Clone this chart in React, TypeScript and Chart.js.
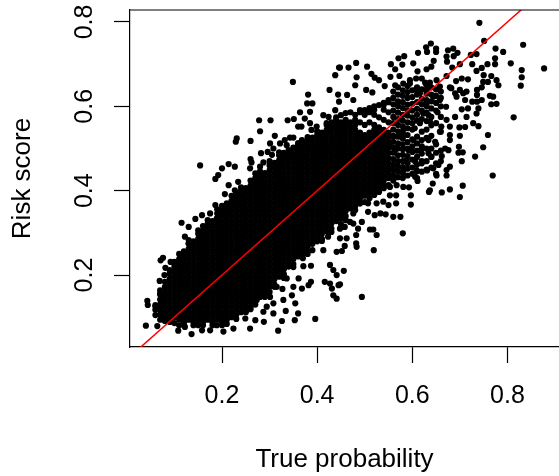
import { useEffect, useRef } from "react";
import { Chart, registerables } from "chart.js";

Chart.register(...registerables);

const FONT = "'Liberation Sans', Arial, sans-serif";
const xTicks = [0.2, 0.4, 0.6, 0.8];
const yTicks = [0.2, 0.4, 0.6, 0.8];
const refLineEnds = [0, 0.95];

const coreTrue = [60,70,80,90,100,110,120,130,140,150,160,170,180,190,200,210,220,230,240,250,260,270,280,290,300,310,320,330,340,350,360,370,380,390,400,410,420,430,440,450,460,470,480,490,500,510,520,530,540,550];
const coreRisk = [
[105,118,129],
[94,106,118,130,142,154,164],
[91,100,112,124,136,148,160,172,184],
[89,95,107,119,131,143,155,167,179,191,203,212],
[86,100,112,124,136,148,160,172,184,196,208,220,231],
[81,94,106,118,130,142,154,166,178,190,202,214,226,238,250],
[81,88,100,112,124,136,148,160,172,184,196,208,220,232,244,256],
[94,106,118,130,142,154,166,178,190,202,214,226,238,250,262,274,283],
[81,88,100,112,124,136,148,160,172,184,196,208,220,232,244,256,268,280],
[81,94,106,118,130,142,154,166,178,190,202,214,226,238,250,262,274,286,298,306],
[81,88,100,112,124,136,148,160,172,184,196,208,220,232,244,256,268,280,292,304,316],
[94,106,118,130,142,154,166,178,190,202,214,226,238,250,262,274,286,298,310,322,330],
[81,88,100,112,124,136,148,160,172,184,196,208,220,232,244,256,268,280,292,304,316,328],
[94,106,118,130,142,154,166,178,190,202,214,226,238,250,262,274,286,298,310,322,334,346,356],
[81,88,100,112,124,136,148,160,172,184,196,208,220,232,244,256,268,280,292,304,316,328,340,352,364],
[84,94,106,118,130,142,154,166,178,190,202,214,226,238,250,262,274,286,298,310,322,334,346,358,370],
[100,112,124,136,148,160,172,184,196,208,220,232,244,256,268,280,292,304,316,328,340,352,364,376,388],
[96,106,118,130,142,154,166,178,190,202,214,226,238,250,262,274,286,298,310,322,334,346,358,370,382,394],
[112,124,136,148,160,172,184,196,208,220,232,244,256,268,280,292,304,316,328,340,352,364,376,388,400,408],
[112,118,130,142,154,166,178,190,202,214,226,238,250,262,274,286,298,310,322,334,346,358,370,382,394,406],
[119,124,136,148,160,172,184,196,208,220,232,244,256,268,280,292,304,316,328,340,352,364,376,388,400,412,424],
[130,142,154,166,178,190,202,214,226,238,250,262,274,286,298,310,322,334,346,358,370,382,394,406,418,430],
[148,160,172,184,196,208,220,232,244,256,268,280,292,304,316,328,340,352,364,376,388,400,412,424,436,446],
[148,154,166,178,190,202,214,226,238,250,262,274,286,298,310,322,334,346,358,370,382,394,406,418,430,442],
[160,172,184,196,208,220,232,244,256,268,280,292,304,316,328,340,352,364,376,388,400,412,424,436,448,460,470],
[172,178,190,202,214,226,238,250,262,274,286,298,310,322,334,346,358,370,382,394,406,418,430,442,454,466],
[196,208,220,232,244,256,268,280,292,304,316,328,340,352,364,376,388,400,412,424,436,448,460,472,484,491],
[193,202,214,226,238,250,262,274,286,298,310,322,334,346,358,370,382,394,406,418,430,442,454,466,478,490],
[220,232,244,256,268,280,292,304,316,328,340,352,364,376,388,400,412,424,436,448,460,472,484,496],
[219,226,238,250,262,274,286,298,310,322,334,346,358,370,382,394,406,418,430,442,454,466,478,490,502],
[244,256,268,280,292,304,316,328,340,352,364,376,388,400,412,424,436,448,460,472,484,496,508,513],
[240,250,262,274,286,298,310,322,334,346,358,370,382,394,406,418,430,442,454,466,478,490,502,514],
[250,256,268,280,292,304,316,328,340,352,364,376,388,400,412,424,436,448,460,472,484,496,508,520,527],
[259,274,286,298,310,322,334,346,358,370,382,394,406,418,430,442,454,466,478,490,502,514,526],
[280,292,304,316,328,340,352,364,376,388,400,412,424,436,448,460,472,484,496,508,520,532,541],
[281,286,298,310,322,334,346,358,370,382,394,406,418,430,442,454,466,478,490,502,514,526,538],
[304,316,328,340,352,364,376,388,400,412,424,436,448,460,472,484,496,508,520,532,544,556,560],
[302,310,322,334,346,358,370,382,394,406,418,430,442,454,466,478,490,502,514,526,538,550,562],
[328,340,352,364,376,388,400,412,424,436,448,460,472,484,496,508,520,532,544,556,568,574],
[321,334,346,358,370,382,394,406,418,430,442,454,466,478,490,502,514,526,538,550,562,579],
[330,340,352,364,376,388,400,412,424,436,448,460,472,484,496,508,520,532,544,556,568,584],
[358,370,382,394,406,418,430,442,454,466,478,490,502,514,526,538,550,562,586],
[354,364,376,388,400,412,424,436,448,460,472,484,496,508,520,532,544,556,568,580],
[370,382,394,406,418,430,442,454,466,478,490,502,514,526,538,562,586,591],
[373,388,400,412,424,436,448,460,472,484,496,508,520,532,556,580,591],
[382,394,406,418,430,442,454,466,478,490,502,514,526,538,562,586,596],
[390,400,412,424,436,448,460,472,484,496,508,520,532,544,556,580,592,600],
[397,406,418,430,442,454,466,478,490,502,514,526,538,550,574,603],
[406,412,424,436,448,460,472,484,496,508,520,532,544,568,592,604,608],
[413,430,442,454,466,478,490,502,514,526,538,562,586,610,615],
];

const midTrue = [560,570,580,590,600,610,620,630,640,650,660];
const midRisk = [
[424,436,450,462,475,490,503,516,530,545,560,575,590,605,620,635],
[432,445,458,470,484,500,512,528,541,556,570,585,600,612,628,645],
[430,442,456,470,485,498,510,524,540,552,566,580,596,610,625,638],
[436,452,465,482,500,515,532,548,562,578,590,604,620,634,648],
[440,455,474,492,505,522,545,560,574,590,606,622,638],
[430,446,462,480,495,512,528,566,580,594,610,628,645],
[445,470,488,505,520,540,570,590,605,618,640],
[450,470,500,525,545,565,585,600,615,630,650],
[455,480,500,530,555,575,595,612,628,645],
[440,465,490,510,560,590,608,625,640],
[470,495,540,575,600,620,635],
];

const upperRightPairs = [741,798,751,755,833,746,775,737,791,729,877,690,807,702,830,686,830,669,828,649,774,714,774,700,758,700,746,691,735,684,735,724,723,722,726,700,700,700,684,692,750,674,766,672,777,662,781,650,759,658,749,658,746,645,736,639,736,627,763,625,770,623,766,605,777,606,746,615,736,611,726,611,739,595,735,583,813,574,728,560,739,553,711,551,699,550,714,575,704,593,717,595,711,615,707,631,693,623,682,643,717,664,704,666,692,660,672,672,651,662,637,656,627,656,620,666,608,666,595,662,611,683,630,688,640,694,645,708,602,702,579,699,583,719,571,714,555,700,564,688,612,727,629,740,631,729,639,749,650,737,650,729,675,733,686,737,695,727,687,719,672,718,673,706,482,703,466,692,448,692,505,694,514,677,521,668,530,662,483,669,480,650,554,670,573,672,542,648,503,639,516,633,463,627,476,615,564,650,581,654,595,654,608,640,630,639,658,647,679,645,700,639,714,635,690,631];
const rightPairs = [653,586,672,568,661,552,679,552,690,575,671,599,658,615,630,607,644,623,616,631,634,579,623,583,637,564,616,560,605,548,658,540,679,532,700,530,759,532,749,503,732,481,704,470,698,504,706,491,697,490,679,520,676,496,662,482,669,500,655,461,679,457,672,449,672,436,651,436,631,448,644,453,769,436,640,481,648,516,634,520,634,489,620,500,606,469,620,465,609,449,602,520,592,496,578,532,560,528,564,496,588,473,552,512,581,449,560,449,606,433,706,412,700,385,679,403,662,396,637,401,635,397,643,417,611,423,597,389,597,367,593,408,581,409,575,338,560,338,580,299,544,344,533,346,521,342,507,350,525,295,518,308,511,308,494,326,486,310,482,295,462,287,448,287,482,275,483,267,458,269,452,257,519,259,456,210,448,178,494,148,566,370,550,366,566,389,553,389,525,370,539,374,507,370,490,370,469,326,476,346,458,314,448,310,553,409,535,413,518,397,567,413,476,322];
const upperLeftPairs = [349,658,381,628,379,607,390,607,385,587,364,586,426,639,438,674,446,692,444,628,446,611,278,567,302,567,338,567,351,570,280,541,231,524,229,516,260,518,311,530,343,526,350,526,360,552,367,552,374,571,385,560,154,460,200,453,214,463,227,457,192,437,186,428,260,475,262,467,259,453,282,489,287,467,301,512,296,492,308,500,322,512,336,508,332,520,305,485,270,441,399,552,413,579,424,575,438,591,406,536,424,544,441,552,388,544,368,520,385,516,406,512,441,520,364,496,329,485,350,481,371,481,392,489,420,489,280,457,301,465,322,457];
const lowerLeftPairs = [40,80,64,79,43,139,44,129,60,126,70,156,69,186,81,217,71,235,76,241,92,231,79,200,115,324,130,314,144,333,122,291,130,275,112,235,158,342,175,346,186,366,189,334,206,392,214,413,227,401,234,421,196,350,210,358,227,370,108,68,136,60,158,69,175,69,203,66,224,73,259,73,288,89,270,93,318,68,326,91,353,93,396,96,360,109,334,115,308,109,287,113,249,97,91,89,122,77,147,85,189,81,301,148,327,167,350,172,368,168,382,176,387,184,371,221,387,222,361,192,336,192,315,172,329,141,347,152,354,133,308,133,294,125,273,141,427,224,434,212,441,200,416,184,431,168,434,152,441,144,445,176,427,180,441,255,413,259,423,291];

const xMin = 0.2 - 92 / 475.75;
const xMax = 0.2 + 337 / 475.75;
const yMin = 0.2 - 72 / 422;
const yMax = 0.8 + 12 / 422;

function fromColumns(xs: number[], ys: number[][]) {
  return xs.flatMap((x, i) => ys[i].map((y) => ({ x: x / 1000, y: y / 1000 })));
}
function fromPairs(p: number[]) {
  const out: { x: number; y: number }[] = [];
  for (let i = 0; i + 1 < p.length; i += 2) out.push({ x: p[i] / 1000, y: p[i + 1] / 1000 });
  return out;
}

const topEdge = {
  id: "topEdge",
  afterDraw(chart: any) {
    const { ctx, chartArea } = chart;
    ctx.save();
    ctx.strokeStyle = "#000";
    ctx.lineWidth = 1.2;
    ctx.beginPath();
    ctx.moveTo(chartArea.left, chartArea.top);
    ctx.lineTo(chartArea.right, chartArea.top);
    ctx.stroke();
    ctx.restore();
  },
};

export default function App() {
  const ref = useRef<HTMLCanvasElement>(null);
  useEffect(() => {
    const points = [
      ...fromColumns(coreTrue, coreRisk),
      ...fromColumns(midTrue, midRisk),
      ...fromPairs(upperRightPairs),
      ...fromPairs(rightPairs),
      ...fromPairs(upperLeftPairs),
      ...fromPairs(lowerLeftPairs),
    ];
    const clearPad = (s: any) => {
      s.paddingTop = 0;
      s.paddingBottom = 0;
      s.paddingLeft = 0;
      s.paddingRight = 0;
    };
    const chart = new Chart(ref.current!, {
      type: "scatter",
      data: {
        datasets: [
          {
            label: "y = x",
            data: refLineEnds.map((v) => ({ x: v, y: v })),
            showLine: true,
            borderColor: "#ff0000",
            borderWidth: 1.5,
            pointRadius: 0,
            order: 0,
          },
          {
            label: "Risk score",
            data: points,
            backgroundColor: "#000",
            borderWidth: 0,
            pointRadius: 3.1,
            order: 1,
          },
        ],
      },
      options: {
        animation: false,
        responsive: false,
        layout: { autoPadding: false, padding: { top: 10, left: 0, right: 0, bottom: 0 } },
        plugins: { legend: { display: false }, tooltip: { enabled: false } },
        scales: {
          x: {
            type: "linear",
            position: "bottom",
            min: xMin,
            max: xMax,
            afterBuildTicks: (s: any) => {
              s.ticks = xTicks.map((value) => ({ value }));
            },
            afterFit: (s: any) => {
              s.height = 129;
              clearPad(s);
            },
            border: { display: true, color: "#000", width: 1.2 },
            grid: { display: true, drawOnChartArea: false, drawTicks: true, tickLength: 16, tickColor: "#000", tickWidth: 1.2 },
            ticks: {
              color: "#000",
              font: { family: FONT, size: 25 },
              padding: 18,
              autoSkip: false,
              maxRotation: 0,
              minRotation: 0,
              callback: (v: any) => Number(v).toFixed(1),
            },
            title: { display: true, text: "True probability", color: "#000", font: { family: FONT, size: 26 }, padding: { top: 0, bottom: 1 } },
          },
          y: {
            type: "linear",
            position: "left",
            min: yMin,
            max: yMax,
            afterBuildTicks: (s: any) => {
              s.ticks = yTicks.map((value) => ({ value }));
            },
            afterFit: (s: any) => {
              s.width = 130;
              clearPad(s);
            },
            border: { display: true, color: "#000", width: 1.2 },
            grid: { display: true, drawOnChartArea: false, drawTicks: true, tickLength: 16, tickColor: "#000", tickWidth: 1.2 },
            ticks: {
              color: "#000",
              font: { family: FONT, size: 25 },
              padding: 12,
              autoSkip: false,
              minRotation: 90,
              maxRotation: 90,
              crossAlign: "center",
              callback: (v: any) => Number(v).toFixed(1),
            },
            title: { display: true, text: "Risk score", color: "#000", font: { family: FONT, size: 26 }, padding: { top: 7, bottom: 0 } },
          },
        },
      } as any,
      plugins: [topEdge],
    });
    return () => chart.destroy();
  }, []);
  return (
    <div style={{ position: "absolute", left: 0, top: 0, width: 559, height: 476, overflow: "hidden", background: "#fff" }}>
      <canvas ref={ref} width={559} height={476} style={{ display: "block" }} />
    </div>
  );
}
